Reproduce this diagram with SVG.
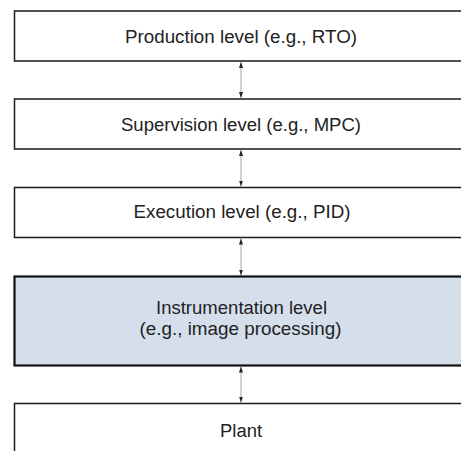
<svg xmlns="http://www.w3.org/2000/svg" width="461" height="451" viewBox="0 0 461 451">
<style>
.box{fill:#ffffff;stroke:#1a1a1a;stroke-width:1.5}
.hl{fill:#d5dfec;stroke:#111;stroke-width:2.2}
.t{font-family:"Liberation Sans",Arial,sans-serif;font-size:18px;fill:#222;text-anchor:middle}
.c{stroke:#9a9a9a;stroke-width:0.9;fill:none;marker-start:url(#ah);marker-end:url(#ah)}
</style>
<defs>
<marker id="ah" viewBox="0 0 6 6" refX="6" refY="3" markerWidth="6" markerHeight="6" orient="auto-start-reverse" markerUnits="userSpaceOnUse">
<path d="M0,1 L6,3 L0,5 Z" fill="#222"/>
</marker>
</defs>
<g id="connectors">
<line class="c" x1="241" y1="62" x2="241" y2="98"/>
<line class="c" x1="241" y1="150" x2="241" y2="186.5"/>
<line class="c" x1="241" y1="238.5" x2="241" y2="275.5"/>
<line class="c" x1="241" y1="366.5" x2="241" y2="402.5"/>
</g>
<g id="production">
<rect class="box" x="14.5" y="11" width="460" height="50"/>
<text class="t" x="241" y="42.5" textLength="232" lengthAdjust="spacingAndGlyphs">Production level (e.g., RTO)</text>
</g>
<g id="supervision">
<rect class="box" x="14.5" y="99" width="460" height="50"/>
<text class="t" x="241" y="130.5" textLength="240" lengthAdjust="spacingAndGlyphs">Supervision level (e.g., MPC)</text>
</g>
<g id="execution">
<rect class="box" x="14.5" y="187.5" width="460" height="50"/>
<text class="t" x="242" y="217.5" textLength="217" lengthAdjust="spacingAndGlyphs">Execution level (e.g., PID)</text>
</g>
<g id="instrumentation">
<rect class="hl" x="14.5" y="276.5" width="460" height="89"/>
<text class="t" x="241.5" y="313.5" textLength="171" lengthAdjust="spacingAndGlyphs">Instrumentation level</text>
<text class="t" x="240.5" y="335" textLength="202" lengthAdjust="spacingAndGlyphs">(e.g., image processing)</text>
</g>
<g id="plant">
<rect class="box" x="14.5" y="403.5" width="460" height="60"/>
<text class="t" x="241" y="436.5" textLength="42" lengthAdjust="spacingAndGlyphs">Plant</text>
</g>
</svg>
